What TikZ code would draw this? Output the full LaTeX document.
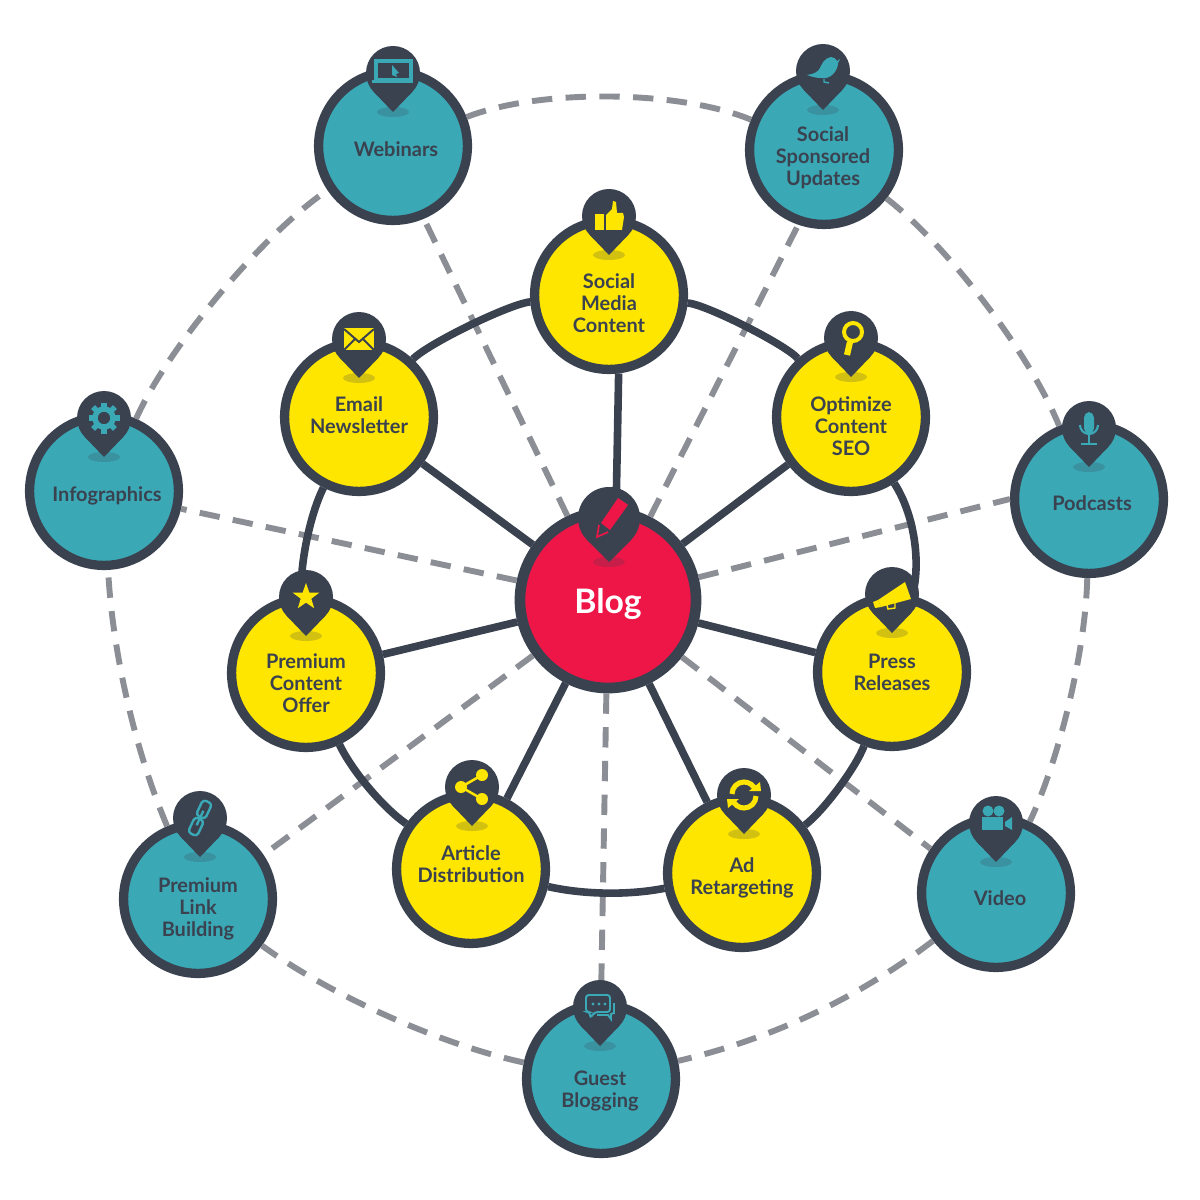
\documentclass[tikz,border=0pt]{standalone}
\usepackage{fontspec}
\setmainfont{Lato}
\usetikzlibrary{arrows.meta,positioning,shapes.geometric}
\definecolor{slate}{HTML}{3A4250}
\definecolor{sun}{HTML}{FFE600}
\definecolor{lagoon}{HTML}{3BA8B6}
\definecolor{rose}{HTML}{EE1547}
\definecolor{ash}{HTML}{8B8E94}

\begin{document}
\begin{tikzpicture}[
    x=0.025cm, y=-0.025cm,
    disc/.style={circle, draw=slate, line width=6.6pt, minimum size=3.72cm, inner sep=0pt},
    sundisc/.style={disc, fill=sun},
    lagoondisc/.style={disc, fill=lagoon},
    tag/.style={align=center, text=slate, inner sep=0pt, font=\fontsize{14.2}{15.6}\selectfont\bfseries},
    spoke/.style={draw=slate, line width=5.4pt},
    rim/.style={draw=slate, line width=5.4pt},
    link/.style={draw=ash, line width=4.2pt, dash pattern=on 14.5pt off 9.5pt},
    pinbase/.pic={
      \fill[slate, opacity=0.22] (0,39) ellipse [x radius=16, y radius=5];
      \fill[slate] (0,0) circle (27);
      \fill[slate] (-19.5,18.7) -- (0,39) -- (19.5,18.7) -- cycle;
    },
    pinpencil/.pic={
      \fill[slate, opacity=0.22] (0,44) ellipse [x radius=16, y radius=5];
      \fill[slate] (0,0) circle (31);
      \fill[slate] (-22,22) -- (0,44) -- (22,22) -- cycle;
    },
    iconthumb/.pic={
      \fill (-14,-2) rectangle (-5,14);
      \fill (-3,-1) -- (3,-7) -- (4,-15) -- (7,-14) -- (8,-3) -- (14,-3) -- (15,1) -- (13,14) -- (-3,14) -- cycle;
    },
    iconpencil/.pic={
      \fill (-8,5) -- (9,-20) -- (19,-13) -- (1,12) -- cycle;
      \draw[line width=1.2pt] (-10,7) -- (-12,19) -- (-1,14);
    },
    iconlaptop/.pic={
      \draw[line width=2.2pt] (-17,-12) rectangle (18,7);
      \fill (-21,7) rectangle (20,10.5);
      \fill (-1,-8) -- (6,0) -- (3,1) -- (4,4) -- (-1,2) -- cycle;
    },
    iconbird/.pic={
      \fill (-16,4) .. controls (-9,3) and (-5,1) .. (-3,-3) .. controls (-1,-8) and (2,-13) .. (8,-14) .. controls (11,-14) and (13,-12) .. (14,-10) -- (17,-12) -- (15,-8) .. controls (15,-1) and (8,9) .. (-2,7) .. controls (-6,7) and (-11,6) .. (-16,4) -- cycle;
      \draw[line width=1pt] (1,8) -- (1,11) -- (6,12);
    },
    iconletter/.pic={
      \fill (-15,-11) rectangle (15,11);
      \draw[slate, line width=1.4pt] (-15,-10) -- (0,3) -- (15,-10) (-15,11) -- (-4,0) (15,11) -- (4,0);
    },
    iconlens/.pic={
      \draw[line width=2.8pt] (2,-6) circle (9);
      \draw[line width=4.4pt] (-1,4) -- (-4,17);
    },
    iconstar/.pic={
      \fill (0,-14) -- (3.3,-4.5) -- (13.3,-4.3) -- (5.3,1.7) -- (8.2,11.3) -- (0,5.6) -- (-8.2,11.3) -- (-5.3,1.7) -- (-13.3,-4.3) -- (-3.3,-4.5) -- cycle;
    },
    iconhorn/.pic={
      \fill (13,-12) -- (19,5) -- (-11,13) -- (-14,6) -- cycle;
      \fill (-19,8) -- (-14,6) -- (-11,13) -- (-17,14) -- cycle;
      \draw[line width=1pt] (-5,11) -- (-4,15) -- (3,14) -- (3,9);
    },
    iconcycle/.pic={
      \draw[line width=3.6pt] (-12,-1) arc[start angle=180, end angle=340, radius=12];
      \draw[line width=3.6pt] (12,1) arc[start angle=0, end angle=160, radius=12];
      \fill (5,-4) -- (17,-4) -- (16,-13) -- cycle;
      \fill (-5,4) -- (-17,4) -- (-16,13) -- cycle;
    },
    iconshare/.pic={
      \draw[line width=1.8pt] (10,-12) -- (-11,0) -- (10,12);
      \fill (-11,0) circle (6);
      \fill (10,-12) circle (6);
      \fill (10,12) circle (6);
    },
    icongear/.pic={
      \draw[line width=3.8pt] (0,0) circle (9);
      \foreach \ang in {0,45,...,315}
        \draw[line width=4pt] (\ang:9) -- (\ang:15.5);
    },
    iconmic/.pic={
      \fill[rounded corners=4pt] (-5,-16) rectangle (5,6);
      \draw[line width=1.5pt] (-9,-3) arc[start angle=180, end angle=0, radius=9];
      \draw[line width=2pt] (0,6) -- (0,15);
      \draw[line width=2pt] (-8,16) -- (8,16);
    },
    iconcamera/.pic={
      \fill (-8,-12) circle (5.5);
      \fill (3,-12) circle (5.5);
      \fill (-14,-6) rectangle (7,7);
      \fill (9,-1) -- (16,-6) -- (16,7) -- (9,3) -- cycle;
    },
    iconchat/.pic={
      \draw[line width=1.4pt, rounded corners=2pt] (-14,-12) -- (10,-12) -- (10,5) -- (-5,5) -- (-10,11) -- (-10,5) -- (-14,5) -- cycle;
      \draw[line width=1.4pt] (-3,8) -- (8,8) -- (11,12) -- (11,7) -- (14,6) -- (14,-4);
      \fill (-7,-3) circle (1.6);
      \fill (-1,-3) circle (1.6);
      \fill (5,-3) circle (1.6);
    },
    iconchain/.pic={
      \draw[line width=1.7pt, rounded corners=2.5pt, rotate=-25] (-5,-18) rectangle (5,-1);
      \draw[line width=1.7pt, rounded corners=2.5pt, rotate=-25] (-5,1) rectangle (5,18);
      \draw[line width=1.7pt, rotate=-25] (0,-8) -- (0,8);
    }
  ]
    \useasboundingbox (0,0) rectangle (1200,1200);
    \fill[white] (0,0) rectangle (1200,1200);

    % inner circle
    \node[sundisc] (social) at (609,295) {};
    \node[sundisc] (seo) at (851,417) {};
    \node[sundisc] (press) at (892,672) {};
    \node[sundisc] (retarget) at (742,873) {};
    \node[sundisc] (article) at (471,869) {};
    \node[sundisc] (offer) at (306,673) {};
    \node[sundisc] (email) at (359,417) {};

    % outer circle
    \node[lagoondisc] (webinars) at (393,146) {};
    \node[lagoondisc] (updates) at (824,150) {};
    \node[lagoondisc] (podcasts) at (1089,499) {};
    \node[lagoondisc] (video) at (996,893) {};
    \node[lagoondisc] (guest) at (601,1079) {};
    \node[lagoondisc] (backlinks) at (198,899) {};
    \node[lagoondisc] (infographics) at (104,491) {};

    \node[disc, fill=rose, line width=7.6pt, minimum size=4.4cm] (blog) at (608,600) {};

    \draw[link] (webinars) to[bend left=22, looseness=0.7] (updates);
    \draw[link] (updates) to[bend left=15, looseness=0.7] (podcasts);
    \draw[link] (podcasts) to[bend left=12, looseness=0.73] (video);
    \draw[link] (video) to[bend left=12, looseness=0.87] (guest);
    \draw[link] (guest) to[bend left=12, looseness=0.75] (backlinks);
    \draw[link] (backlinks) to[bend left=10, looseness=0.8] (infographics);
    \draw[link] (infographics) to[bend left=16, looseness=0.67] (webinars);

    \draw[link] (blog) -- (webinars.-67);
    \draw[link] (blog) -- (updates.251);
    \draw[link] (blog) -- (podcasts.west);
    \draw[link] (blog) -- (video.146);
    \draw[link] (blog) -- (guest.north);
    \draw[link] (blog) -- (backlinks.34);
    \draw[link] (blog) -- (infographics.-13);

    \draw[rim] (social) to[bend left=21, looseness=0.4] (seo);
    \draw[rim] (seo) to[bend left=24, looseness=0.8] (press);
    \draw[rim] (press) to[bend left=16, looseness=0.6] (retarget);
    \draw[rim] (retarget) to[bend left=12, looseness=0.8] (article);
    \draw[rim] (article) to[bend left=15, looseness=0.7] (offer);
    \draw[rim] (offer) to[bend left=15, looseness=0.7] (email);
    \draw[rim] (email) to[bend left=21, looseness=0.4] (social);

    \draw[spoke] (blog.85) -- (social.-83);
    \draw[spoke] (blog) -- (seo);
    \draw[spoke] (blog) -- (press);
    \draw[spoke] (blog) -- (retarget);
    \draw[spoke] (blog) -- (article);
    \draw[spoke] (blog) -- (offer);
    \draw[spoke] (blog) -- (email);

    \node[tag] (socialtext) at (609,303) {Social\\Media\\Content};
    \node[tag] (seotext) at (851,426) {Optimize\\Content\\SEO};
    \node[tag] (presstext) at (892,672) {Press\\Releases};
    \node[tag] (retargettext) at (742,878) {Ad\\Retargeting};
    \node[tag] (articletext) at (471,864) {Article\\Distribution};
    \node[tag] (offertext) at (306,683) {Premium\\Content\\Offer};
    \node[tag] (emailtext) at (359,415) {Email\\Newsletter};
    \node[tag] (webinarstext) at (396,149) {Webinars};
    \node[tag] (updatestext) at (823,158) {Social\\Sponsored\\Updates};
    \node[tag] (podcaststext) at (1092,503) {Podcasts};
    \node[tag] (videotext) at (1000,898) {Video};
    \node[tag] (guesttext) at (600,1091) {Guest\\Blogging};
    \node[tag] (backlinkstext) at (198,909) {Premium\\Link\\Building};
    \node[tag] (infographicstext) at (107,496) {Infographics};
    \node[tag, text=white, font=\fontsize{24}{26}\selectfont\bfseries] (blogtext) at (608,604) {Blog};

    \pic at (609,216) {pinbase};
    \pic[color=sun] at (609,216) {iconthumb};
    \pic at (851,338) {pinbase};
    \pic[color=sun] at (851,338) {iconlens};
    \pic at (892,594) {pinbase};
    \pic[color=sun] at (892,594) {iconhorn};
    \pic at (744,795) {pinbase};
    \pic[color=sun] at (744,795) {iconcycle};
    \pic at (472,787) {pinbase};
    \pic[color=sun] at (472,787) {iconshare};
    \pic at (306,597) {pinbase};
    \pic[color=sun] at (306,597) {iconstar};
    \pic at (359,339) {pinbase};
    \pic[color=sun] at (359,339) {iconletter};
    \pic at (393,73) {pinbase};
    \pic[color=lagoon] at (393,73) {iconlaptop};
    \pic at (823,71) {pinbase};
    \pic[color=lagoon] at (823,71) {iconbird};
    \pic at (1089,428) {pinbase};
    \pic[color=lagoon] at (1089,428) {iconmic};
    \pic at (996,823) {pinbase};
    \pic[color=lagoon] at (996,823) {iconcamera};
    \pic at (600,1007) {pinbase};
    \pic[color=lagoon] at (600,1007) {iconchat};
    \pic at (200,818) {pinbase};
    \pic[color=lagoon] at (200,818) {iconchain};
    \pic at (104,418) {pinbase};
    \pic[color=lagoon] at (104,418) {icongear};
    \pic at (609,518) {pinpencil};
    \pic[color=rose] at (609,518) {iconpencil};
  \end{tikzpicture}
\end{document}
